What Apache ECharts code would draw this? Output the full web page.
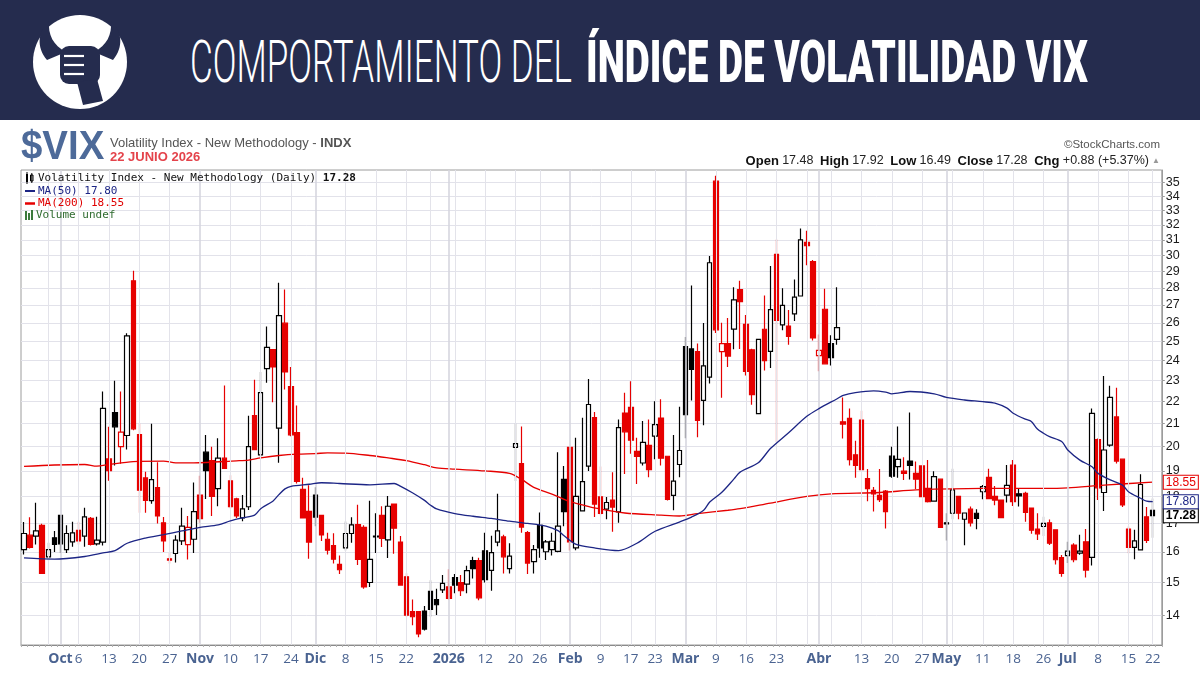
<!DOCTYPE html>
<html><head><meta charset="utf-8">
<script src="https://cdn.jsdelivr.net/npm/echarts@6/dist/echarts.min.js"></script>
<style>
html,body{margin:0;padding:0;background:#fff;}
#wrap{position:relative;width:1200px;height:691px;overflow:hidden;background:#fff;}
#chart{position:absolute;left:0;top:0;width:1200px;height:691px;}
#banner{position:absolute;left:0;top:0;}
</style></head>
<body><div id="wrap"><div id="chart"></div>
<svg id="banner" width="1200" height="120" viewBox="0 0 1200 120" xmlns="http://www.w3.org/2000/svg">
<rect x="0" y="0" width="1200" height="120" fill="#252c4e"/>
<circle cx="80" cy="62" r="47" fill="#ffffff"/>
<path d="M47,60 C36,47 38,31 49,21 C48,35 53,45 66,52 Z" fill="#252c4e"/>
<path d="M113,60 C124,47 122,31 111,21 C112,35 107,45 94,52 Z" fill="#252c4e"/>
<rect x="60" y="46" width="40" height="38" rx="9" fill="#252c4e"/>
<line x1="64" y1="56" x2="84" y2="56" stroke="#fff" stroke-width="2.2"/>
<line x1="64" y1="65" x2="84" y2="65" stroke="#fff" stroke-width="2.2"/>
<line x1="64" y1="74" x2="84" y2="74" stroke="#fff" stroke-width="2.2"/>
<path d="M77,82 L97,79 L103,101 L83,105 Z" fill="#252c4e"/>
<text x="190" y="82" font-family="Roboto, 'DejaVu Sans'" font-weight="300" font-size="60" fill="#ffffff" textLength="382" lengthAdjust="spacingAndGlyphs">COMPORTAMIENTO DEL</text>
<text x="586" y="82" font-family="Roboto, 'DejaVu Sans'" font-weight="900" font-size="60" fill="#ffffff" textLength="502" lengthAdjust="spacingAndGlyphs">ÍNDICE DE VOLATILIDAD VIX</text>
</svg>
</div>
<script>
// ---------- DATA ----------
const startDate = '2025-09-23';
const endDate = '2026-06-22';
const marketHolidays = ['2025-11-27','2025-12-25','2026-01-01','2026-01-19','2026-02-16','2026-04-03','2026-05-25','2026-06-19'];

const opens = [16.08,16.58,16.55,16.93,15.84,16.49,17.29,16.08,16.35,16.75,
16.55,17.18,16.28,16.34,19.49,21.50,20.00,20.48,28.42,20.52,
18.72,17.84,18.34,17.02,15.77,15.95,16.38,16.25,16.44,18.05,
19.77,19.42,18.30,19.52,18.60,17.91,17.20,17.61,21.36,19.66,
23.60,24.57,20.80,25.98,22.72,20.61,18.27,17.44,18.05,17.29,
16.44,16.22,15.59,16.14,16.64,16.96,16.86,15.00,16.55,17.29,
16.42,17.71,16.34,15.18,14.10,14.10,14.12,14.72,14.47,14.77,
14.86,15.16,15.00,14.95,15.71,15.71,16.04,15.39,16.34,16.52,
15.45,19.97,19.30,16.67,15.68,16.93,16.01,16.08,16.02,18.66,
19.97,16.14,17.46,19.19,21.27,17.98,17.52,17.86,17.42,21.48,
21.74,19.80,19.32,20.06,20.45,21.25,19.60,18.04,19.26,24.72,
24.60,24.46,22.06,23.18,35.10,24.46,24.88,25.66,27.90,25.91,
24.56,21.45,25.65,24.47,30.06,25.89,25.82,26.50,27.52,30.83,
29.60,24.26,26.76,24.88,25.10,21.08,21.24,19.66,21.16,18.69,
18.23,18.04,18.20,19.61,19.17,18.99,19.40,18.90,19.20,18.31,
17.82,18.67,17.02,17.37,18.00,17.15,17.52,17.37,18.18,18.74,
18.00,17.86,18.05,19.24,18.10,18.12,17.56,16.80,16.89,17.02,
16.77,15.81,15.88,16.24,15.96,16.35,15.82,20.30,18.15,20.07,
21.30,19.48,16.80,16.16,16.07,17.24,17.48];

const highs = [17.05,17.22,17.76,16.99,16.32,16.73,17.30,16.93,17.06,17.06,
17.57,17.23,17.24,22.48,20.86,23.00,22.48,25.43,29.04,21.00,
18.97,21.00,19.35,17.23,15.97,16.58,17.57,17.27,18.54,18.81,
20.50,20.00,20.36,22.77,18.83,17.95,18.05,21.36,23.05,23.43,
25.80,24.60,28.30,27.90,23.68,21.82,18.73,18.43,18.35,17.30,
16.67,16.65,15.88,17.07,17.22,17.69,16.93,17.84,17.37,17.63,
18.02,17.72,16.55,15.30,14.47,14.10,14.27,15.07,14.80,15.24,
15.43,15.27,15.24,15.54,15.84,15.81,16.67,16.56,18.10,16.60,
16.30,21.00,20.87,16.73,16.24,17.40,16.41,16.67,19.77,19.20,
19.97,20.38,21.27,23.08,21.53,19.18,17.98,18.95,21.19,22.42,
22.97,20.38,21.12,21.19,22.02,22.11,19.60,20.50,21.77,25.23,
28.14,24.88,25.99,29.96,35.50,26.00,26.27,28.03,28.42,26.44,
24.61,25.10,27.55,29.33,31.02,27.98,26.72,28.50,31.75,31.60,
29.70,25.37,27.94,25.32,28.04,22.20,21.68,20.25,21.58,19.08,
18.36,19.08,18.25,20.00,20.87,19.56,21.50,19.38,19.22,19.44,
18.99,18.70,17.37,19.09,18.01,17.40,17.62,17.52,18.44,19.09,
18.40,17.87,19.24,19.44,18.32,18.18,17.56,17.37,17.24,17.14,
16.77,15.90,16.35,16.30,16.60,16.80,21.68,20.35,23.23,22.75,
22.66,19.48,16.89,16.77,18.87,17.60,17.92];

const lows = [15.92,16.12,16.26,15.29,15.72,16.00,15.97,15.97,16.18,16.26,
16.18,16.22,16.22,16.22,18.61,19.22,19.29,19.88,20.71,17.39,
17.39,17.72,17.00,16.00,15.62,15.65,16.24,15.75,15.97,17.02,
17.90,17.27,17.63,19.10,17.55,17.20,17.08,17.49,19.88,19.56,
22.90,21.97,19.33,22.58,20.45,18.50,17.20,15.77,16.90,16.38,
15.92,15.62,15.27,16.05,16.32,15.57,14.80,14.86,15.97,16.17,
15.80,15.94,14.92,13.95,13.70,13.36,13.55,13.95,14.00,14.67,
14.47,14.66,14.58,14.66,15.13,14.45,15.00,14.74,16.20,15.29,
15.29,18.60,16.67,15.27,15.29,15.81,15.73,15.88,15.99,16.90,
16.05,16.06,17.46,19.00,17.23,17.30,17.15,16.70,17.02,18.88,
19.70,18.48,19.22,18.75,19.47,19.22,17.85,17.48,18.75,20.36,
22.06,20.40,20.93,22.86,25.45,22.19,23.68,24.58,24.60,23.26,
21.86,21.45,23.50,23.63,20.20,25.60,24.82,26.10,27.52,29.38,
25.05,23.46,23.84,23.75,24.82,20.35,19.22,18.73,19.05,17.82,
17.43,17.79,16.82,18.73,18.73,18.64,18.66,18.29,17.99,17.77,
17.80,16.86,16.40,17.15,17.15,16.23,16.89,16.79,17.89,17.89,
17.67,17.20,17.77,17.64,17.62,17.06,16.63,16.41,16.55,16.24,
15.58,15.18,15.63,15.66,15.91,15.16,15.55,17.86,17.45,20.00,
19.30,17.60,15.96,15.76,16.05,16.31,16.49];

const closes = [16.64,16.16,16.73,15.29,16.08,16.26,16.28,16.64,16.66,16.38,
17.24,16.26,16.41,21.69,19.01,20.86,20.63,25.29,20.77,18.24,
17.85,18.65,17.27,16.38,15.73,16.41,16.90,16.86,17.43,17.17,
19.01,18.00,19.52,19.10,17.61,17.27,17.53,20.00,19.88,22.43,
24.68,23.68,26.40,23.43,20.51,18.58,17.20,16.34,17.23,16.59,
16.06,15.76,15.41,16.64,16.95,15.75,14.86,15.75,16.52,16.47,
17.63,16.83,14.92,14.00,13.95,13.45,13.59,14.17,14.31,14.97,
14.50,14.92,14.74,15.38,15.45,14.52,15.09,15.98,16.73,15.84,
15.86,20.13,16.87,15.63,16.08,16.14,16.35,16.37,16.90,17.43,
16.35,18.00,18.57,21.87,17.71,17.36,17.77,17.60,20.82,20.64,
20.28,19.59,20.18,19.05,20.96,19.52,17.89,18.59,19.84,21.40,
23.56,21.15,23.73,29.53,25.62,24.88,24.23,27.30,27.20,23.46,
22.33,25.10,24.00,26.74,26.14,26.98,25.27,27.46,31.00,30.62,
25.18,24.53,23.84,24.15,25.74,20.98,19.46,19.22,19.05,18.30,
18.10,17.88,17.43,18.79,19.47,18.90,19.22,18.67,17.99,17.80,
18.77,16.86,16.98,18.25,17.37,17.38,17.02,17.18,18.38,17.92,
17.86,17.21,18.43,17.80,18.02,17.40,16.76,16.63,17.00,16.30,
15.74,15.29,16.03,15.74,16.03,15.40,21.46,18.33,19.86,22.20,
19.40,17.68,16.16,16.38,18.46,16.40,17.28];

// moving averages: [trading-day index, value]
const ma50Points = [[0,15.80],[5,15.76],[10,15.85],[13,15.97],[15,16.05],[17,16.30],[20,16.48],[23,16.60],
[26,16.73],[29,16.86],[32,16.95],[34,17.09],[36,17.20],[38,17.30],[39,17.54],[41,17.82],[42,18.07],[43,18.29],
[44,18.39],[47,18.47],[49,18.53],[52,18.50],[57,18.45],[61,18.50],[62,18.40],[64,18.14],[66,17.85],[67,17.67],
[68,17.53],[71,17.36],[74,17.26],[77,17.18],[80,17.08],[83,17.00],[86,16.90],[88,16.74],[89,16.56],[91,16.26],
[94,16.14],[98,16.05],[101,16.30],[104,16.72],[108,17.05],[110,17.23],[112,17.48],[113,17.79],[115,18.16],
[117,18.68],[118,18.95],[121,19.33],[123,19.92],[126,20.60],[129,21.33],[131,21.68],[134,22.14],[135,22.30],
[137,22.43],[140,22.51],[142,22.45],[143,22.37],[146,22.48],[150,22.37],[152,22.20],[155,22.08],[158,22.00],
[160,21.93],[162,21.70],[163,21.47],[165,21.20],[166,21.10],[167,20.76],[168,20.58],[169,20.43],[171,20.22],
[172,19.86],[174,19.44],[176,19.17],[177,18.90],[179,18.64],[181,18.44],[182,18.18],[184,17.93],[185,17.82],[186,17.80]];

const ma200Points = [[0,19.18],[5,19.24],[10,19.26],[12,19.19],[14,19.26],[18,19.38],[23,19.40],[25,19.33],
[28,19.33],[35,19.41],[37,19.44],[39,19.53],[42,19.63],[45,19.69],[48,19.71],[50,19.74],[53,19.73],[57,19.63],
[60,19.53],[63,19.42],[66,19.25],[68,19.12],[71,19.07],[76,19.00],[80,18.90],[82,18.66],[84,18.35],[87,18.09],
[90,17.80],[92,17.68],[94,17.57],[99,17.38],[105,17.30],[108,17.27],[111,17.36],[116,17.48],[118,17.54],
[123,17.75],[129,18.00],[133,18.10],[141,18.15],[147,18.25],[158,18.31],[168,18.31],[172,18.33],[178,18.44],[186,18.55]];

const yTicks = [14,15,16,17,18,19,20,21,22,23,24,25,26,27,28,29,30,31,32,33,34,35];

// [date, text, isMonth]
const xTickLabels = [
['2025-10-01','Oct',1],['2025-10-06','6',0],['2025-10-13','13',0],['2025-10-20','20',0],['2025-10-27','27',0],
['2025-11-03','Nov',1],['2025-11-10','10',0],['2025-11-17','17',0],['2025-11-24','24',0],
['2025-12-01','Dic',1],['2025-12-08','8',0],['2025-12-15','15',0],['2025-12-22','22',0],
['2026-01-02','2026',1],['2026-01-12','12',0],['2026-01-20','20',0],['2026-01-26','26',0],
['2026-02-02','Feb',1],['2026-02-09','9',0],['2026-02-17','17',0],['2026-02-23','23',0],
['2026-03-02','Mar',1],['2026-03-09','9',0],['2026-03-16','16',0],['2026-03-23','23',0],
['2026-04-01','Abr',1],['2026-04-13','13',0],['2026-04-20','20',0],['2026-04-27','27',0],
['2026-05-01','May',1],['2026-05-11','11',0],['2026-05-18','18',0],['2026-05-26','26',0],
['2026-06-01','Jul',1],['2026-06-08','8',0],['2026-06-15','15',0],['2026-06-22','22',0]];

// ---------- BUILD ----------
function iso(d){return d.toISOString().slice(0,10);}
const tradingDays = [];
(function(){
  let d = new Date(startDate+'T00:00:00Z'); const end = new Date(endDate+'T00:00:00Z');
  while (d <= end) { const wd = d.getUTCDay(); const s = iso(d);
    if (wd!==0 && wd!==6 && marketHolidays.indexOf(s)<0) tradingDays.push(s);
    d = new Date(d.getTime()+86400000); }
})();
const categories = tradingDays.concat(['2026-06-23']); // one empty slot on the right

const RED = '#e60000', BLACK = '#000000', NAVY = '#1c2585';
const candleData = closes.map((c,i)=>{
  const prev = i>0 ? closes[i-1] : c;
  const col = c < prev ? RED : BLACK;
  const fill = c > opens[i] ? '#ffffff' : col;   // hollow when close above open
  return {value:[opens[i], c, lows[i], highs[i]],
    itemStyle:{color:fill, color0:fill, borderColor:col, borderColor0:col, borderWidth:1.2}};
});
const ma50Data = ma50Points.map(p=>[tradingDays[p[0]], p[1]]);
const ma200Data = ma200Points.map(p=>[tradingDays[p[0]], p[1]]);

const labelMap = new Map(xTickLabels.map(t=>[t[0], {t:t[1], m:t[2]}]));

// vertical grid lines: first trading day of each week / month
const vLines = [];
tradingDays.forEach((s,i)=>{
  if (i===0) return;
  const d = new Date(s+'T00:00:00Z'), p = new Date(tradingDays[i-1]+'T00:00:00Z');
  const newMonth = d.getUTCMonth()!==p.getUTCMonth();
  const newWeek = (d - p) > 86400000*1.5 && d.getUTCDay() <= p.getUTCDay() || (d-p) > 86400000*3.5;
  if (newMonth) vLines.push({xAxis:s, lineStyle:{color:'#d6d6df', width:1.6, type:'solid'}});
  else if (newWeek) vLines.push({xAxis:s, lineStyle:{color:'#e3e3ea', width:1, type:'solid'}});
});

const last = closes.length-1;
const lastClose = closes[last], prevClose = closes[last-1];
const chg = lastClose - prevClose, chgPct = chg/prevClose*100;
const ma50Last = ma50Points[ma50Points.length-1][1], ma200Last = ma200Points[ma200Points.length-1][1];
const f2 = v => v.toFixed(2);

function tag(value, color, bold){
  return {silent:true, symbol:['none','none'], animation:false,
    lineStyle:{color:'rgba(0,0,0,0)', width:1, type:'solid'},
    data:[{yAxis:value}],
    label:{show:true, position:'end', distance:2, formatter:f2(value), color:color,
      fontSize:12, fontWeight: bold?'bold':'normal', fontFamily:'"Liberation Sans", Arial',
      backgroundColor:'#ffffff', borderColor:color, borderWidth:1, padding:[1,2,0,2]}};
}

const chart = echarts.init(document.getElementById('chart'), null, {renderer:'canvas'});
const F = '"Liberation Sans", Arial, sans-serif';
const MONO = '"DejaVu Sans Mono", monospace';
const option = {
  animation:false,
  backgroundColor:'#ffffff',
  grid:{left:21, right:38.2, top:170, bottom:46, show:true, borderColor:'#9c9c9c', borderWidth:1, backgroundColor:'#fff'},
  xAxis:{type:'category', data:categories, boundaryGap:true,
    axisLine:{show:true, lineStyle:{color:'#8a8a8a'}},
    axisTick:{show:true, interval:0, length:2, lineStyle:{color:'#b0b0b0'}},
    axisLabel:{interval:(i,v)=>labelMap.has(v), margin:7,
      formatter:v=>{const t=labelMap.get(v); if(!t) return ''; return t.m?'{m|'+t.t+'}':'{n|'+t.t+'}';},
      rich:{m:{fontWeight:'bold', fontSize:14, color:'#4a6391', fontFamily:'"Open Sans", sans-serif'},
            n:{fontSize:13.5, color:'#4a6391', fontFamily:'"Open Sans", sans-serif'}}},
    splitLine:{show:false}},
  yAxis:{type:'log', position:'right', min:13.14, max:35.94,
    axisLine:{show:true, lineStyle:{color:'#9c9c9c'}},
    axisTick:{show:true, length:3, customValues:yTicks, lineStyle:{color:'#9c9c9c'}},
    axisLabel:{customValues:yTicks, margin:4, color:'#1a1a1a', fontSize:12.5, fontFamily:F,
      formatter:v=>String(Math.round(v))},
    splitLine:{show:true, lineStyle:{color:'#e2e2ea', width:1}}},
  series:[
    {type:'line', name:'grid', data:[], z:1, silent:true,
      markLine:{silent:true, symbol:['none','none'], animation:false, label:{show:false}, data:vLines}},
    {type:'candlestick', name:'VIX', data:candleData, barWidth:5, z:3,
      markLine:tag(lastClose, '#000000', true)},
    {type:'line', name:'MA(200)', data:ma200Data, showSymbol:false, smooth:0.3, z:4,
      lineStyle:{color:RED, width:1.3}, itemStyle:{color:RED}, markLine:tag(ma200Last, RED, false)},
    {type:'line', name:'MA(50)', data:ma50Data, showSymbol:false, smooth:0.3, z:5,
      lineStyle:{color:NAVY, width:1.3}, itemStyle:{color:NAVY}, markLine:tag(ma50Last, NAVY, false)}
  ],
  graphic:[
    {type:'text', x:21, y:148, scaleX:0.96, z:100, style:{text:'$VIX', font:'bold 40px '+F, fill:'#4d6a99', verticalAlign:'middle'}},
    {type:'text', x:110, y:143, z:100, style:{text:'{a|Volatility Index - New Methodology - }{b|INDX}', verticalAlign:'middle',
      rich:{a:{fontSize:13, fontFamily:F, fill:'#555555'}, b:{fontSize:13, fontFamily:F, fontWeight:'bold', fill:'#555555'}}}},
    {type:'text', x:110, y:157.5, z:100, style:{text:'22 JUNIO 2026', font:'bold 13px '+F, fill:'#e4434b', verticalAlign:'middle'}},
    {type:'text', x:1160, y:145, z:100, style:{text:'©StockCharts.com', font:'11.5px '+F, fill:'#555555', align:'right', verticalAlign:'middle'}},
    {type:'text', x:1149, y:161, z:100, style:{
      text:'{k|Open} {v|'+f2(opens[last])+'}  {k|High} {v|'+f2(highs[last])+'}  {k|Low} {v|'+f2(lows[last])+'}  {k|Close} {v|'+f2(lastClose)+'}  {k|Chg} {v|'+(chg>=0?'+':'')+f2(chg)+' ('+(chg>=0?'+':'')+f2(chgPct)+'%)}',
      align:'right', verticalAlign:'middle',
      rich:{k:{fontSize:13, fontWeight:'bold', fontFamily:F, fill:'#111'}, v:{fontSize:12.5, fontFamily:F, fill:'#222'}}}},
    {type:'text', x:1152, y:161, z:100, style:{text:'▲', font:'8px '+F, fill:'#999', verticalAlign:'middle'}},
    // legend inside plot
    {type:'rect', z:100, shape:{x:26, y:174, width:2, height:8}, style:{fill:'#000'}},
    {type:'rect', z:100, shape:{x:30.5, y:175, width:2.5, height:6}, style:{fill:'#fff', stroke:'#000', lineWidth:1}},
    {type:'line', z:100, shape:{x1:27, y1:172, x2:27, y2:184}, style:{stroke:'#000', lineWidth:1}},
    {type:'line', z:100, shape:{x1:31.8, y1:173, x2:31.8, y2:183}, style:{stroke:'#000', lineWidth:1}},
    {type:'text', x:38, y:178.5, z:100, style:{text:'{a|Volatility Index - New Methodology (Daily) }{b|'+f2(lastClose)+'}', verticalAlign:'middle',
      rich:{a:{fontSize:11, fontFamily:MONO, fill:'#111'}, b:{fontSize:11, fontFamily:MONO, fontWeight:'bold', fill:'#111'}}}},
    {type:'line', z:100, shape:{x1:25, y1:191, x2:35, y2:191}, style:{stroke:NAVY, lineWidth:2}},
    {type:'text', x:38, y:191, z:100, style:{text:'MA(50) '+f2(ma50Last), font:'11px '+MONO, fill:NAVY, verticalAlign:'middle'}},
    {type:'line', z:100, shape:{x1:25, y1:203.5, x2:35, y2:203.5}, style:{stroke:RED, lineWidth:2.5}},
    {type:'text', x:38, y:203.5, z:100, style:{text:'MA(200) '+f2(ma200Last), font:'11px '+MONO, fill:'#e00000', verticalAlign:'middle'}},
    {type:'rect', z:100, shape:{x:25, y:211, width:2, height:9}, style:{fill:'#3c7a3c'}},
    {type:'rect', z:100, shape:{x:28, y:213, width:2, height:7}, style:{fill:'#3c7a3c'}},
    {type:'rect', z:100, shape:{x:31, y:210, width:2, height:10}, style:{fill:'#3c7a3c'}},
    {type:'text', x:36, y:215.5, z:100, style:{text:'Volume undef', font:'11px '+MONO, fill:'#2f6b2f', verticalAlign:'middle'}}
  ]
};
chart.setOption(option);
</script>
</body></html>
